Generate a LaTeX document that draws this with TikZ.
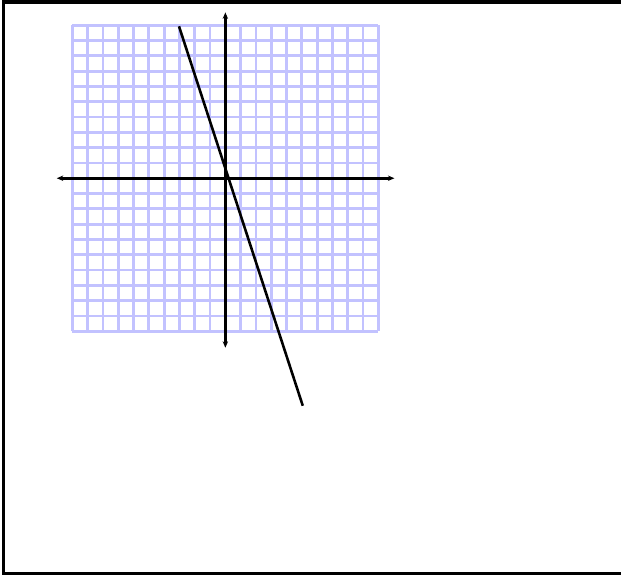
\documentclass[tikz,border=0pt]{standalone}
\usepackage{tikz}
\usetikzlibrary{
    arrows.meta,  % For arrow tips
    positioning   % For relative placement
}

\begin{document}
\begin{tikzpicture}[
    x=0.5cm, y=0.5cm,
    >=Stealth, % Set default arrow tip style
    frame/.style={line width=3pt}, % Style for outer frame
    gridlines/.style={line width=2.6pt, blue!24}, % Style for the grid
    axis/.style={<->, line width=2.4pt, >={Stealth[length=6pt, width=5pt]}}, % Style for axes
    graphline/.style={line width=2.4pt} % Style for the plotted line
]

    % Fix the picture size
    \useasboundingbox (-14.73,-25.93) rectangle (25.86,11.65);

    % Outer frame (right side lies outside the picture)
    \draw[frame] (28,11.52) -- (-14.5,11.52) -- (-14.5,-25.86) -- (28,-25.86);

    % Grid
    \draw[gridlines, step=1] (-10,-10) grid (10,10);

    % Axes
    \coordinate (xmin) at (-11.02,0);
    \coordinate (xmax) at (11.05,0);
    \coordinate (ymin) at (0,-11.08);
    \coordinate (ymax) at (0,10.84);
    \draw[axis] (xmin) -- (xmax);
    \draw[axis] (ymin) -- (ymax);

    % Line
    \coordinate (ltop) at (-3.03,9.93);
    \coordinate (lbot) at (5.06,-14.87);
    \draw[graphline] (ltop) -- (lbot);

\end{tikzpicture}
\end{document}
